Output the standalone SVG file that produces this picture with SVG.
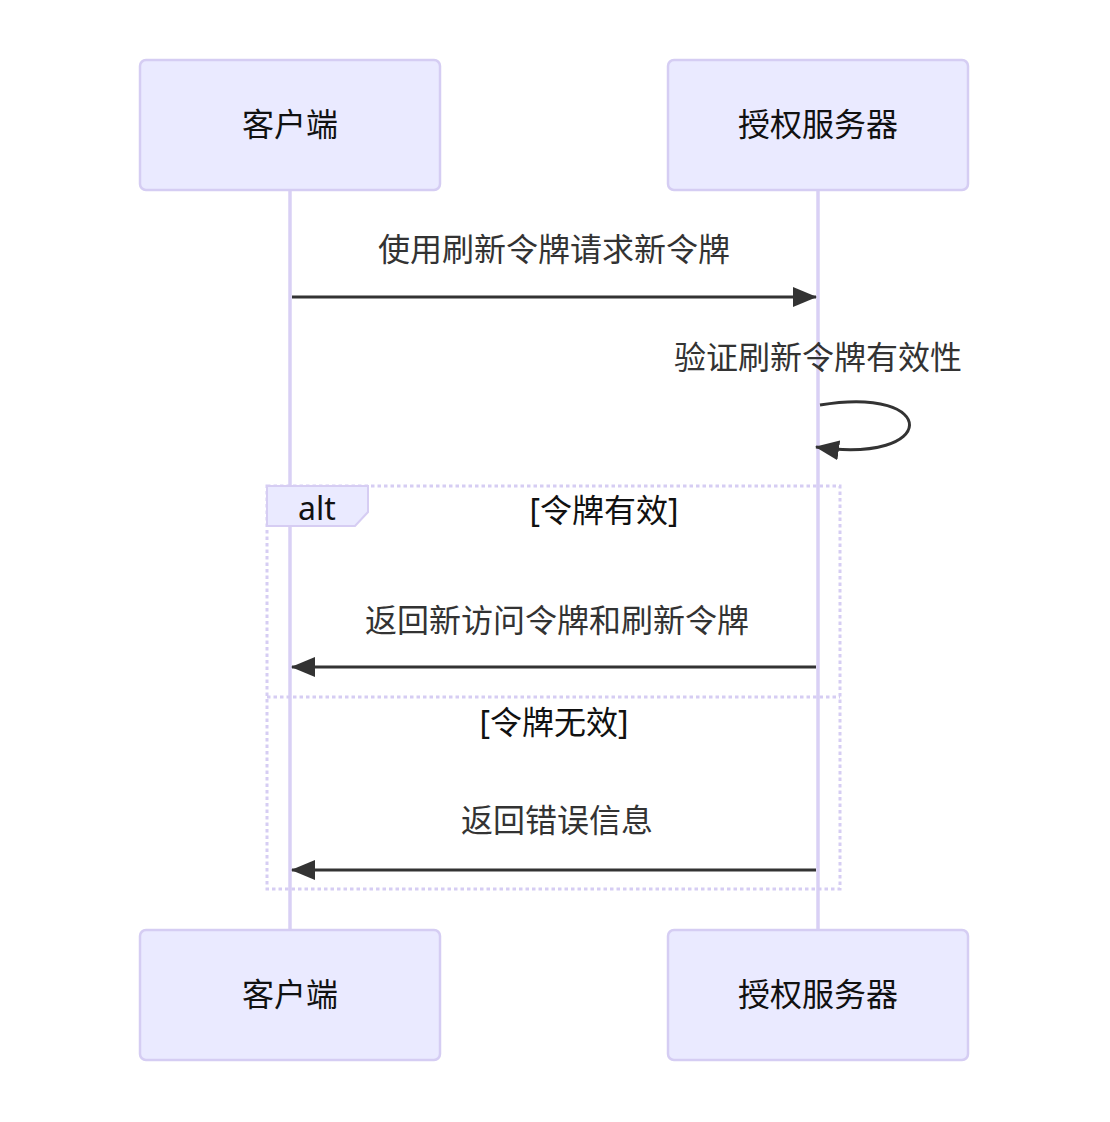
<svg xmlns="http://www.w3.org/2000/svg" width="1110" height="1122" viewBox="0 0 1110 1122">
<style>
.actor{fill:#eaeaff;stroke:#d5cdf3;stroke-width:2.5}
.atext{font-family:"Noto Sans","Noto Sans CJK SC",sans-serif;font-size:32px;fill:#111;text-anchor:middle}
.life{stroke:#d9d0f5;stroke-width:3.5}
.msg{stroke:#333;stroke-width:3;fill:none}
.mtext{font-family:"Noto Sans","Noto Sans CJK SC",sans-serif;font-size:32px;fill:#333;text-anchor:middle}
.loop{stroke:#d6cdf3;stroke-width:3;fill:none;stroke-dasharray:3.5 3}
.lbox{fill:#eaeaff;stroke:#d6cdf3;stroke-width:2}
.ltext{font-family:"Noto Sans","Noto Sans CJK SC",sans-serif;font-size:32px;fill:#111;text-anchor:middle}
</style>
<defs>
<marker id="arrow" viewBox="0 0 24 20" refX="23" refY="10" markerWidth="24" markerHeight="20" markerUnits="userSpaceOnUse" orient="auto">
<path d="M0,0 L24,10 L0,20 z" fill="#333"/>
</marker>
</defs>
<g id="lifelines">
<line class="life" x1="290" y1="190" x2="290" y2="930"/>
<line class="life" x1="818" y1="190" x2="818" y2="930"/>
</g>
<g id="actor-client-top">
<rect class="actor" x="140" y="60" width="300" height="130" rx="6"/>
<text class="atext" x="290" y="136">客户端</text>
</g>
<g id="actor-server-top">
<rect class="actor" x="668" y="60" width="300" height="130" rx="6"/>
<text class="atext" x="818" y="136">授权服务器</text>
</g>
<g id="alt-frame">
<rect class="loop" x="267" y="486" width="573" height="403"/>
<line class="loop" x1="267" y1="697" x2="840" y2="697"/>
<polygon class="lbox" points="267,486 368,486 368,512 355,526 267,526"/>
<text class="ltext" x="317" y="520">alt</text>
<text class="ltext" x="604" y="522">[令牌有效]</text>
<text class="ltext" x="554" y="734">[令牌无效]</text>
</g>
<g id="connectors">
<line class="msg" x1="292" y1="297" x2="816" y2="297" marker-end="url(#arrow)"/>
<text class="mtext" x="554" y="261">使用刷新令牌请求新令牌</text>
<path class="msg" d="M820,405 C940,385 940,465 816,447" marker-end="url(#arrow)"/>
<text class="mtext" x="818" y="369">验证刷新令牌有效性</text>
<line class="msg" x1="816" y1="667" x2="292" y2="667" marker-end="url(#arrow)"/>
<text class="mtext" x="557" y="632">返回新访问令牌和刷新令牌</text>
<line class="msg" x1="816" y1="870" x2="292" y2="870" marker-end="url(#arrow)"/>
<text class="mtext" x="557" y="832">返回错误信息</text>
</g>
<g id="actor-client-bottom">
<rect class="actor" x="140" y="930" width="300" height="130" rx="6"/>
<text class="atext" x="290" y="1006">客户端</text>
</g>
<g id="actor-server-bottom">
<rect class="actor" x="668" y="930" width="300" height="130" rx="6"/>
<text class="atext" x="818" y="1006">授权服务器</text>
</g>
</svg>
